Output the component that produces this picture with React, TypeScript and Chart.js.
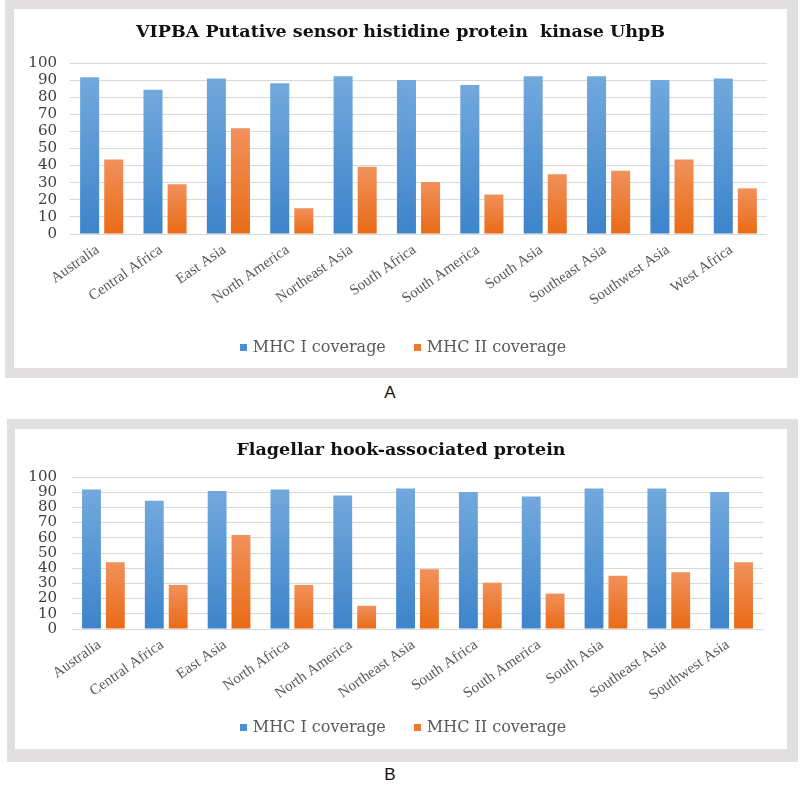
import React, { useEffect, useRef } from "react";
import { Chart, registerables } from "chart.js";

Chart.register(...registerables);

// ---------- data ----------
const categoriesA = [
  "Australia",
  "Central Africa",
  "East Asia",
  "North America",
  "Northeast Asia",
  "South Africa",
  "South America",
  "South Asia",
  "Southeast Asia",
  "Southwest Asia",
  "West Africa",
];
const mhcIA = [91.6, 84.4, 90.9, 88.1, 92.3, 90.1, 87.2, 92.3, 92.3, 90.1, 90.9];
const mhcIIA = [43.5, 29.1, 61.8, 15.1, 39.4, 30.4, 23.1, 34.9, 37.0, 43.5, 26.7];

const categoriesB = [
  "Australia",
  "Central Africa",
  "East Asia",
  "North Africa",
  "North America",
  "Northeast Asia",
  "South Africa",
  "South America",
  "South Asia",
  "Southeast Asia",
  "Southwest Asia",
];
const mhcIB = [91.7, 84.3, 90.8, 91.7, 87.8, 92.4, 90.2, 87.1, 92.4, 92.4, 90.2];
const mhcIIB = [43.9, 29.0, 61.8, 29.0, 15.3, 39.3, 30.5, 23.3, 35.1, 37.3, 43.9];

const seriesNames = ["MHC I coverage", "MHC II coverage"];
const titleA = "VIPBA Putative sensor histidine protein  kinase UhpB";
const titleB = "Flagellar hook-associated protein";
const yMin = 0;
const yMax = 100;
const yStep = 10;

// ---------- styles ----------
const BLUE_TOP = "#72a9dd";
const BLUE_BOTTOM = "#3d84cb";
const ORANGE_TOP = "#f1915b";
const ORANGE_BOTTOM = "#e96b16";
const legendColors = ["#4a8fd3", "#ed7a2d"];
const TEXT = "#595959";
const SERIF = "'DejaVu Serif', 'Liberation Serif', serif";
const TIMES = "'Liberation Serif', 'DejaVu Serif', serif";

function barFill(top: string, bottom: string) {
  return (ctx: any) => {
    const chart = ctx.chart;
    const y = chart.scales && chart.scales.y;
    if (ctx.type !== "data" || !y || !chart.chartArea || typeof ctx.raw !== "number") return bottom;
    const yt = y.getPixelForValue(ctx.raw);
    const yb = y.getPixelForValue(0);
    if (!isFinite(yt) || !isFinite(yb) || Math.abs(yb - yt) < 1) return bottom;
    const g = chart.ctx.createLinearGradient(0, yt, 0, yb);
    g.addColorStop(0, top);
    g.addColorStop(1, bottom);
    return g;
  };
}

// Excel-like bottom legend: small squares, wide spacing between items
const bottomLegend = {
  id: "bottomLegend",
  afterDraw(chart: any, _args: any, opts: any) {
    const ctx = chart.ctx;
    ctx.save();
    ctx.font = `${opts.size}px ${SERIF}`;
    ctx.textBaseline = "middle";
    ctx.textAlign = "left";
    const items = chart.data.datasets.map((d: any, i: number) => ({ text: d.label, color: legendColors[i] }));
    const widths = items.map((it: any) => opts.box + opts.gap + ctx.measureText(it.text).width);
    const total = widths.reduce((a: number, b: number) => a + b, 0) + opts.spacing * (items.length - 1);
    let x = opts.cx - total / 2;
    const y = opts.cy;
    items.forEach((it: any, i: number) => {
      ctx.fillStyle = it.color;
      ctx.fillRect(Math.round(x), Math.round(y - opts.box / 2), opts.box, opts.box);
      ctx.fillStyle = TEXT;
      ctx.fillText(it.text, x + opts.box + opts.gap, y + 1);
      x += widths[i] + opts.spacing;
    });
    ctx.restore();
  },
};

type PanelProps = {
  title: string;
  labels: string[];
  s1: number[];
  s2: number[];
  width: number;
  height: number;
  yAxisWidth: number;
  tickPad: number;
  rightPad: number;
  titleTop: number;
  titleBottom: number;
  xAxisHeight: number;
  bottomPad: number;
  legendY: number;
  legendX: number;
};

function BarPanel(p: PanelProps) {
  const ref = useRef<HTMLCanvasElement | null>(null);
  useEffect(() => {
    if (!ref.current) return;
    const chart = new Chart(ref.current, {
      type: "bar",
      data: {
        labels: p.labels,
        datasets: [
          {
            label: seriesNames[0],
            data: p.s1,
            backgroundColor: barFill(BLUE_TOP, BLUE_BOTTOM) as any,
            borderWidth: 0,
            categoryPercentage: 0.76,
            barPercentage: 0.79,
          },
          {
            label: seriesNames[1],
            data: p.s2,
            backgroundColor: barFill(ORANGE_TOP, ORANGE_BOTTOM) as any,
            borderWidth: 0,
            categoryPercentage: 0.76,
            barPercentage: 0.79,
          },
        ],
      },
      options: {
        animation: false,
        responsive: false,
        maintainAspectRatio: false,
        layout: { padding: { left: 0, right: 0, top: 0, bottom: p.bottomPad } },
        plugins: {
          title: {
            display: true,
            text: p.title,
            color: "#111111",
            font: { family: SERIF, size: 17.5, weight: "bold" },
            padding: { top: p.titleTop, bottom: p.titleBottom },
          },
          legend: { display: false },
          tooltip: { enabled: false },
          bottomLegend: { size: 16, box: 7, gap: 6, spacing: 28, cx: p.legendX, cy: p.legendY },
        } as any,
        scales: {
          x: {
            grid: { display: false, drawTicks: false },
            border: { display: false },
            ticks: {
              color: TEXT,
              font: { family: TIMES, size: 15 },
              minRotation: 35,
              maxRotation: 35,
              autoSkip: false,
              padding: 7,
              labelOffset: -4,
            },
            afterFit: (scale: any) => {
              scale.height = p.xAxisHeight;
            },
          },
          y: {
            min: yMin,
            max: yMax,
            grid: { color: "#d9d9d9", lineWidth: 1, drawTicks: false },
            border: { display: false },
            ticks: {
              stepSize: yStep,
              autoSkip: false,
              color: "#404040",
              font: { family: SERIF, size: 15 },
              padding: p.tickPad,
            },
            afterFit: (scale: any) => {
              scale.width = p.yAxisWidth;
            },
          },
          // empty spacer on the right so the title stays centred on the panel
          spacer: {
            type: "linear",
            position: "right",
            display: true,
            grid: { display: false, drawTicks: false },
            border: { display: false },
            ticks: { display: false },
            afterFit: (scale: any) => {
              scale.width = p.rightPad;
            },
          },
        },
      },
      plugins: [bottomLegend],
    });
    return () => chart.destroy();
  }, []);
  return <canvas ref={ref} width={p.width} height={p.height} style={{ width: p.width, height: p.height, display: "block" }} />;
}

const FRAME = "#e1dfdf";

const panelLabel: React.CSSProperties = {
  position: "absolute",
  left: 370,
  width: 40,
  textAlign: "center",
  fontFamily: "'Liberation Sans', Arial, sans-serif",
  fontSize: 17,
  color: "#111",
  lineHeight: "22px",
};

export default function App() {
  return (
    <div style={{ position: "absolute", left: 0, top: 0, width: 800, height: 786, background: "#ffffff" }}>
      {/* Panel A */}
      <div style={{ position: "absolute", left: 5, top: 0, width: 793, height: 378, background: FRAME }} />
      <div style={{ position: "absolute", left: 14, top: 9, width: 773, height: 359, background: "#ffffff" }}>
        <BarPanel
          title={titleA}
          labels={categoriesA}
          s1={mhcIA}
          s2={mhcIIA}
          width={773}
          height={359}
          yAxisWidth={56}
          tickPad={13}
          rightPad={20}
          titleTop={13}
          titleBottom={20}
          xAxisHeight={80}
          bottomPad={54}
          legendX={389}
          legendY={338}
        />
      </div>
      <div style={{ ...panelLabel, top: 382 }}>A</div>

      {/* Panel B */}
      <div style={{ position: "absolute", left: 7, top: 419, width: 791, height: 343, background: FRAME }} />
      <div style={{ position: "absolute", left: 15, top: 429, width: 772, height: 320, background: "#ffffff" }}>
        <BarPanel
          title={titleB}
          labels={categoriesB}
          s1={mhcIB}
          s2={mhcIIB}
          width={772}
          height={320}
          yAxisWidth={57}
          tickPad={15}
          rightPad={24}
          titleTop={11}
          titleBottom={16}
          xAxisHeight={80}
          bottomPad={40}
          legendX={388}
          legendY={298}
        />
      </div>
      <div style={{ ...panelLabel, top: 764 }}>B</div>
    </div>
  );
}
